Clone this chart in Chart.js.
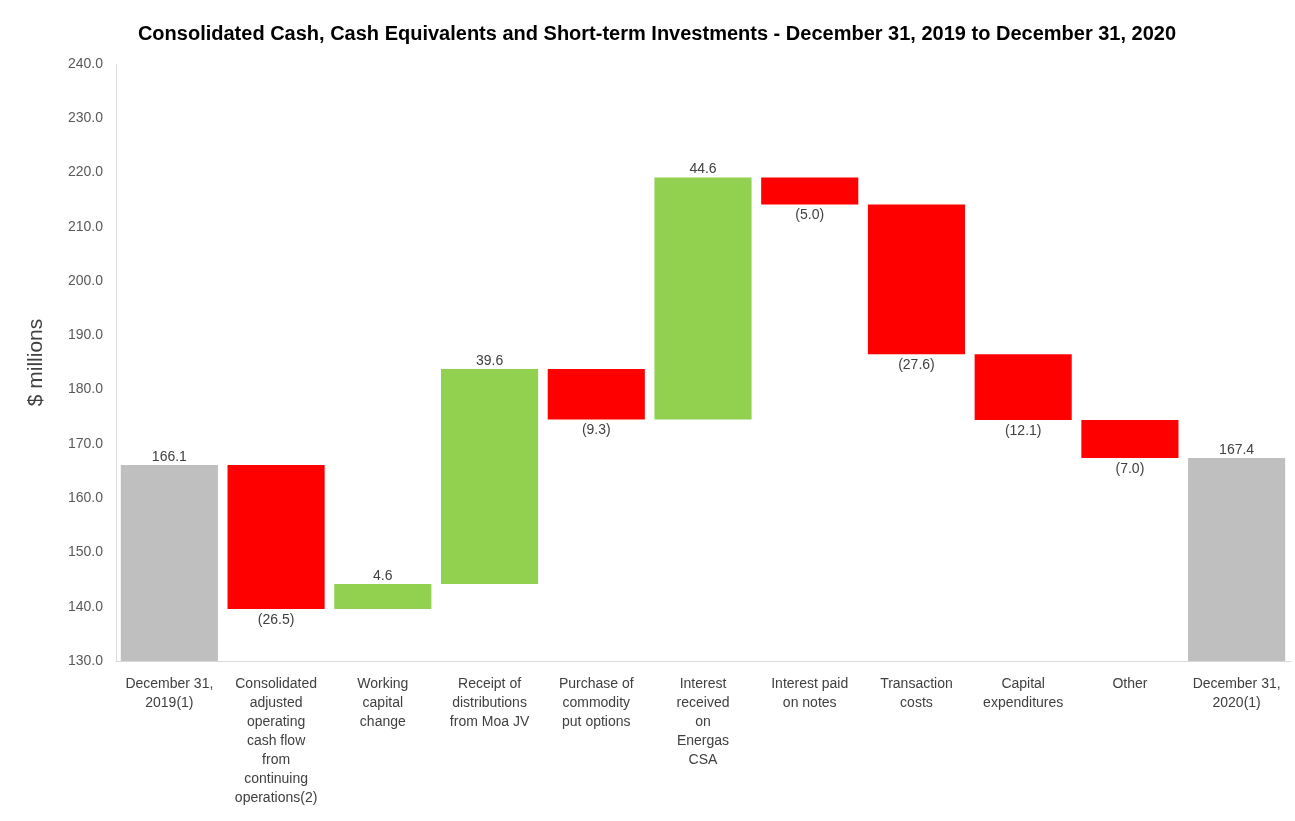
<!DOCTYPE html>
<html>
<head>
<meta charset="utf-8">
<script src="https://cdn.jsdelivr.net/npm/chart.js@4/dist/chart.umd.min.js"></script>
<style>
html,body{margin:0;padding:0;background:#fff;}
#wrap{width:1295px;height:821px;position:relative;}
</style>
</head>
<body>
<div id="wrap"><canvas id="c" width="1295" height="821"></canvas></div>
<script>
const categories = [
  ["December 31,", "2019(1)"],
  ["Consolidated", "adjusted", "operating", "cash flow", "from", "continuing", "operations(2)"],
  ["Working", "capital", "change"],
  ["Receipt of", "distributions", "from Moa JV"],
  ["Purchase of", "commodity", "put options"],
  ["Interest", "received", "on", "Energas", "CSA"],
  ["Interest paid", "on notes"],
  ["Transaction", "costs"],
  ["Capital", "expenditures"],
  ["Other"],
  ["December 31,", "2020(1)"]
];
const changes = [166.1, -26.5, 4.6, 39.6, -9.3, 44.6, -5.0, -27.6, -12.1, -7.0, 167.4];
const isTotal = [true, false, false, false, false, false, false, false, false, false, true];
const yTicks = [130, 140, 150, 160, 170, 180, 190, 200, 210, 220, 230, 240];

const GREY = '#BFBFBF', RED = '#FF0000', GREEN = '#92D050';
const FONT = '"Liberation Sans", Arial, sans-serif';

// Build floating ranges from the running total
const ranges = [], colors = [], labels = [];
let run = 0;
changes.forEach((v, i) => {
  if (isTotal[i]) {
    ranges.push([0, v]); run = v; colors.push(GREY); labels.push(v.toFixed(1));
  } else {
    const start = run, end = run + v;
    ranges.push([Math.min(start, end), Math.max(start, end)]);
    run = end;
    colors.push(v < 0 ? RED : GREEN);
    labels.push(v < 0 ? '(' + Math.abs(v).toFixed(1) + ')' : v.toFixed(1));
  }
});

const valueLabels = {
  id: 'valueLabels',
  afterDatasetsDraw(chart) {
    const ctx = chart.ctx;
    const meta = chart.getDatasetMeta(0);
    const y = chart.scales.y;
    ctx.save();
    ctx.font = '14px ' + FONT;
    ctx.fillStyle = '#404040';
    ctx.textAlign = 'center';
    meta.data.forEach((bar, i) => {
      const v = changes[i];
      const r = ranges[i];
      if (isTotal[i] || v >= 0) {
        ctx.textBaseline = 'bottom';
        ctx.fillText(labels[i], bar.x, y.getPixelForValue(r[1]) - 1);
      } else {
        ctx.textBaseline = 'top';
        ctx.fillText(labels[i], bar.x, y.getPixelForValue(r[0]) + 4);
      }
    });
    ctx.restore();
  }
};

new Chart(document.getElementById('c'), {
  type: 'bar',
  data: {
    labels: categories,
    datasets: [{
      data: ranges,
      backgroundColor: colors,
      borderWidth: 0,
      barPercentage: 0.91,
      categoryPercentage: 1.0
    }]
  },
  options: {
    responsive: false,
    animation: false,
    layout: { padding: { left: 24, right: 5, top: 0, bottom: 0 } },
    plugins: {
      legend: { display: false },
      tooltip: { enabled: false },
      title: {
        display: true,
        text: 'Consolidated Cash, Cash Equivalents and Short-term Investments - December 31, 2019 to December 31, 2020',
        color: '#000',
        font: { family: FONT, size: 20, weight: 'bold' },
        padding: { top: 22, bottom: 18 }
      }
    },
    scales: {
      x: {
        grid: { display: false, drawTicks: false },
        border: { display: true, color: '#D9D9D9', width: 1 },
        ticks: {
          color: '#404040',
          font: { family: FONT, size: 14, lineHeight: 1.35 },
          padding: 14,
          maxRotation: 0,
          autoSkip: false
        },
        afterFit(scale) { scale.height = 160; }
      },
      y: {
        min: 130, max: 240,
        afterBuildTicks(scale) { scale.ticks = yTicks.map(v => ({ value: v })); },
        grid: { display: false, drawTicks: false },
        border: { display: true, color: '#D9D9D9', width: 1 },
        ticks: {
          color: '#595959',
          font: { family: FONT, size: 14 },
          padding: 13,
          callback: v => Number(v).toFixed(1)
        },
        title: {
          display: true,
          text: '$ millions',
          color: '#404040',
          font: { family: FONT, size: 21 },
          padding: { top: 0, bottom: 0 }
        },
        afterFit(scale) { scale.width = 92; }
      }
    }
  },
  plugins: [valueLabels]
});
</script>
</body>
</html>
